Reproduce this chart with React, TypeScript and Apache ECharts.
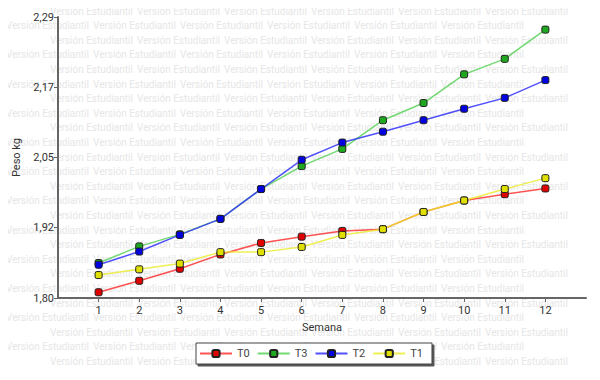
import React, { useEffect, useRef } from 'react';
import * as echarts from 'echarts';

const weeks = ['1', '2', '3', '4', '5', '6', '7', '8', '9', '10', '11', '12'];
const xCategories = ['', ...weeks, ''];
const t0 = [1.810, 1.830, 1.851, 1.876, 1.896, 1.907, 1.917, 1.920, 1.950, 1.970, 1.981, 1.991];
const t3 = [1.861, 1.890, 1.911, 1.938, 1.990, 2.030, 2.060, 2.110, 2.140, 2.190, 2.217, 2.268];
const t2 = [1.858, 1.881, 1.910, 1.938, 1.990, 2.041, 2.071, 2.090, 2.110, 2.130, 2.149, 2.180];
const t1 = [1.840, 1.850, 1.860, 1.880, 1.880, 1.889, 1.910, 1.920, 1.950, 1.970, 1.990, 2.009];
const yTickLabels = ['1,80', '1,92', '2,05', '2,17', '2,29'];
const yMin = 1.8;
const yMax = 2.29;
const yStep = 0.1225;
const watermark = 'Versión Estudiantil';

const FONT = 'Roboto, "Open Sans", sans-serif';

export default function App() {
  const ref = useRef<HTMLDivElement>(null);
  useEffect(() => {
    if (!ref.current) return;
    const chart = echarts.init(ref.current, null, { renderer: 'svg' });

    const wm: any[] = [];
    for (let r = 0; r < 26; r++) {
      const y = 6 + r * 14.6;
      const off = r % 2 === 0 ? 50 : 6;
      for (let c = 0; c < 8; c++) {
        const x = off + c * 87;
        if (x + 82 > 598) continue;
        wm.push({
          type: 'text',
          x,
          y,
          silent: true,
          z: -10,
          style: { text: watermark, fill: '#e6e6e6', font: `10px ${FONT}` },
        });
      }
    }

    const mk = (name: string, vals: number[], color: string, line: string) => ({
      name,
      type: 'line',
      data: weeks.map((w, i) => [w, vals[i]]),
      symbol: 'roundRect',
      symbolSize: 7,
      itemStyle: { color, borderColor: '#222', borderWidth: 1 },
      lineStyle: { color: line, width: 1.5 },
      emphasis: { disabled: true },
    });

    chart.setOption({
      animation: false,
      backgroundColor: '#fff',
      textStyle: { fontFamily: FONT },
      graphic: wm,
      grid: { left: 58, right: 14, top: 17, bottom: 82, containLabel: false },
      legend: {
        left: 196,
        top: 343,
        padding: [5, 9, 5, 3],
        itemWidth: 32,
        itemHeight: 9,
        itemGap: 7,
        backgroundColor: '#fff',
        borderColor: '#444',
        borderWidth: 1,
        shadowColor: '#555',
        shadowOffsetX: 2,
        shadowOffsetY: 2,
        shadowBlur: 0,
        textStyle: { fontSize: 11, color: '#444', fontFamily: FONT },
        data: ['T0', 'T3', 'T2', 'T1'],
      },
      xAxis: {
        type: 'category',
        data: xCategories,
        boundaryGap: false,
        name: 'Semana',
        nameLocation: 'middle',
        nameGap: 24,
        nameTextStyle: { fontSize: 11, color: '#333', fontFamily: FONT },
        axisLine: { lineStyle: { color: '#666', width: 2 } },
        axisTick: { interval: (i: number) => i >= 1 && i <= 12, length: 4, lineStyle: { color: '#666' } },
        axisLabel: { interval: 0, fontSize: 11, color: '#333', margin: 7 },
        splitLine: { show: false },
      },
      yAxis: {
        type: 'value',
        min: yMin,
        max: yMax,
        interval: yStep,
        name: 'Peso kg',
        nameLocation: 'middle',
        nameRotate: 90,
        nameGap: 31,
        nameTextStyle: { fontSize: 11, color: '#333', fontFamily: FONT },
        axisLine: { show: true, lineStyle: { color: '#666', width: 2 } },
        axisTick: { show: true, length: 4, lineStyle: { color: '#666' } },
        axisLabel: {
          fontSize: 11,
          color: '#333',
          margin: 4,
          formatter: (v: number) => yTickLabels[Math.round((v - yMin) / yStep)] ?? '',
        },
        splitLine: { show: false },
      },
      series: [
        mk('T0', t0, '#e00000', 'rgba(255,40,40,0.8)'),
        mk('T3', t3, '#1fa81f', 'rgba(90,210,90,0.85)'),
        mk('T2', t2, '#0000e0', 'rgba(50,50,250,0.85)'),
        mk('T1', t1, '#e0e000', 'rgba(235,235,40,0.8)'),
      ],
    });
    return () => chart.dispose();
  }, []);
  return <div ref={ref} style={{ width: 600, height: 380, margin: -8 }} />;
}
